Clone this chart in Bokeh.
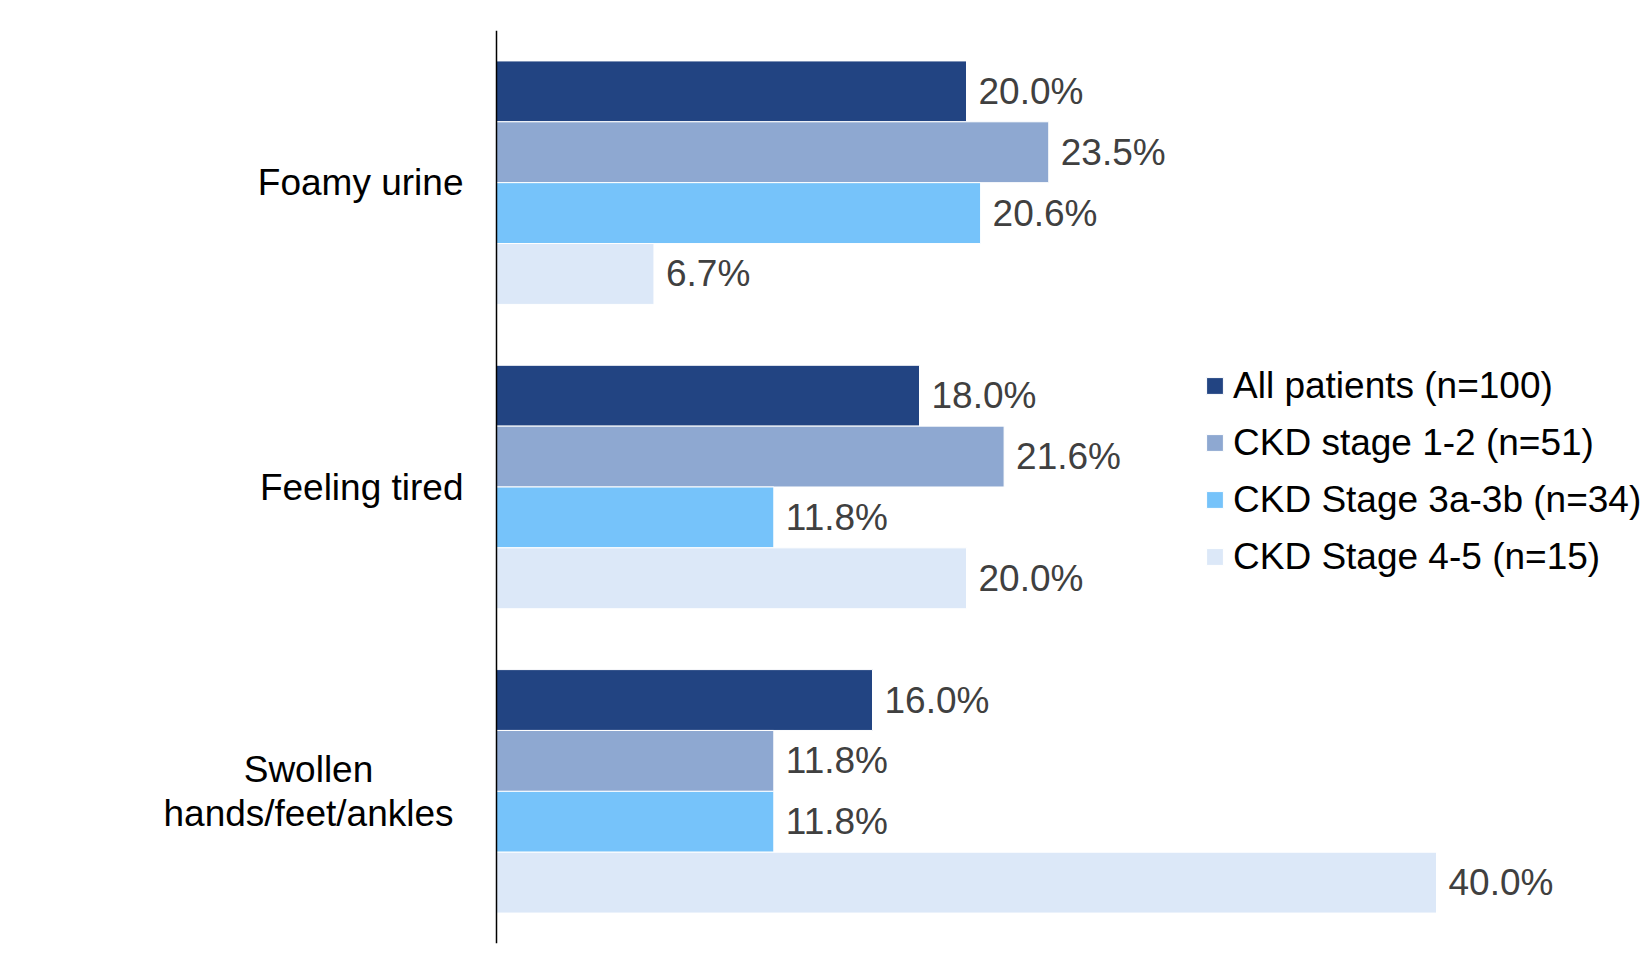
from bokeh.plotting import figure
from bokeh.models import ColumnDataSource, Range1d, FactorRange, Legend, LegendItem, Span
from bokeh.transform import dodge
from bokeh.core.properties import value, field
from bokeh.embed import file_html
from bokeh.resources import INLINE

categories = ["Foamy urine", "Feeling tired", "Swollen hands/feet/ankles"]
category_labels = ["Foamy urine", "Feeling tired", "Swollen\nhands/feet/ankles"]
series_names = ["All patients (n=100)", "CKD stage 1-2 (n=51)",
                "CKD Stage 3a-3b (n=34)", "CKD Stage 4-5 (n=15)"]
all_patients = [20.0, 18.0, 16.0]
ckd_1_2 = [23.5, 21.6, 11.8]
ckd_3a_3b = [20.6, 11.8, 11.8]
ckd_4_5 = [6.7, 20.0, 40.0]

series_values = [all_patients, ckd_1_2, ckd_3a_3b, ckd_4_5]
colors = ["#224482", "#8EA8D1", "#76C3FA", "#DCE8F8"]
offsets = [0.3, 0.1, -0.1, -0.3]
FONT = "Liberation Sans"
PX_PER_UNIT = 23.5
AXIS_PX = 496

p = figure(width=1642, height=959, output_backend="svg", toolbar_location=None,
           y_range=FactorRange(factors=list(reversed(categories)), range_padding=0),
           x_range=Range1d(-AXIS_PX / PX_PER_UNIT, (1642 - AXIS_PX) / PX_PER_UNIT),
           min_border_left=0, min_border_right=0, min_border_top=30, min_border_bottom=16)
p.outline_line_color = None
p.xgrid.visible = False
p.ygrid.visible = False
p.xaxis.visible = False
p.yaxis.visible = False
p.background_fill_color = "white"
p.border_fill_color = "white"

p.add_layout(Span(location=0, dimension="height", line_color="#000000", line_width=1.5))

items = []
for name, vals, col, off in zip(series_names, series_values, colors, offsets):
    src = ColumnDataSource(dict(cat=categories, val=vals,
                                lbl=[f"{v:.1f}%" for v in vals]))
    r = p.hbar(y=dodge("cat", off, range=p.y_range), right="val", left=0, height=0.2,
               source=src, fill_color=col, line_color="white", line_width=1)
    p.text(x="val", y=dodge("cat", off, range=p.y_range), text="lbl", source=src,
           x_offset=12, text_baseline="middle", text_align="left",
           text_font=value(FONT), text_font_size="37px", text_color="#404040")
    items.append(LegendItem(label=name, renderers=[r]))

lab_src = ColumnDataSource(dict(
    cat=categories, lbl=category_labels, x=[0, 0, 0],
    align=["right" if "\n" not in s else "center" for s in category_labels],
    xo=[-33 if "\n" not in s else -188 for s in category_labels]))
p.text(x="x", y="cat", text="lbl", source=lab_src, x_offset=field("xo"),
       text_align=field("align"), text_baseline="middle", text_font=value(FONT),
       text_font_size="37px", text_color="#000000", text_line_height=1.06)

legend = Legend(items=items, location=(1204, 358), orientation="vertical",
                label_text_font=FONT, label_text_font_size="37px",
                label_text_color="#000000", glyph_width=21, glyph_height=21,
                label_standoff=8, label_height=57, spacing=0, padding=0, margin=0,
                border_line_color=None, background_fill_alpha=0)
p.add_layout(legend)

open("out.html", "w").write(file_html(p, INLINE))
